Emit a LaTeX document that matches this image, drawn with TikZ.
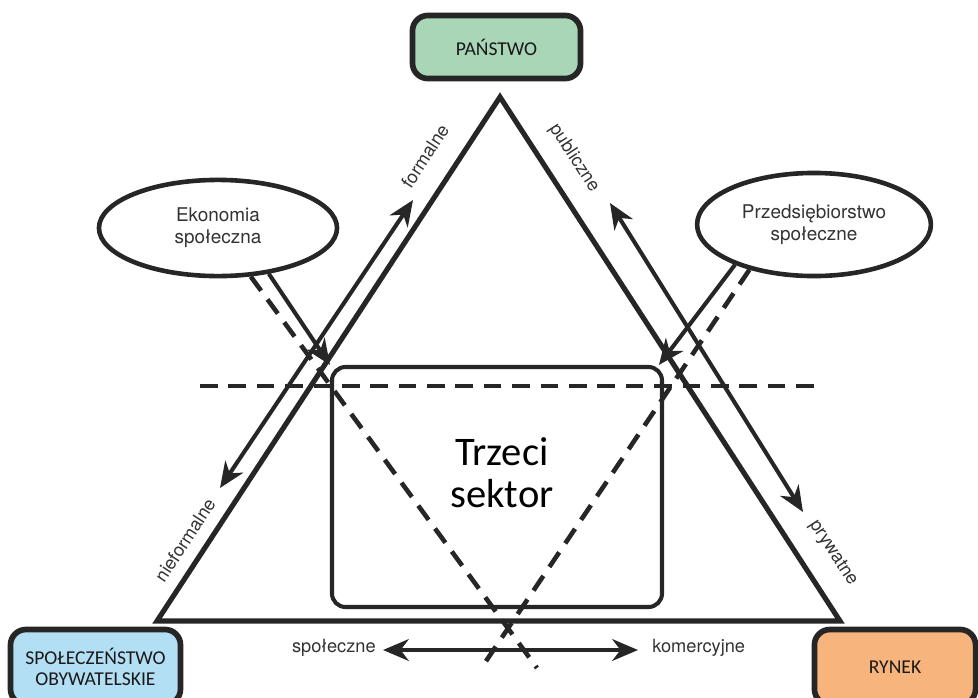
\documentclass[tikz,border=0pt]{standalone}
\usepackage{fontspec}
\setmainfont{TeX Gyre Heros}
\newfontfamily\calibfont{Carlito}
\usepackage{tikz}
\usetikzlibrary{arrows.meta,shapes.geometric}
\definecolor{lineDark}{HTML}{262626}
\definecolor{textGrey}{HTML}{333333}
\definecolor{stateGreen}{HTML}{A8D6B6}
\definecolor{civilBlue}{HTML}{B3DFF4}
\definecolor{marketOrange}{HTML}{F8B47D}
\tikzset{
	sectorbox/.style={draw=lineDark, line width=4.2pt, rounded corners=0.4cm, align=center, text=black!90, font=\calibfont\fontsize{14.5}{16}\selectfont},
	sectoroval/.style={ellipse, draw=lineDark, line width=3.4pt, fill=white, inner sep=0pt, align=center, text=textGrey, font=\fontsize{14}{16.5}\selectfont},
	sidelabel/.style={text=textGrey, inner sep=0pt, font=\fontsize{13.5}{16}\selectfont},
	flowarrow/.style={draw=lineDark, line width=3pt, >={Stealth[length=19pt,width=16pt,inset=6pt]}},
	dashline/.style={draw=lineDark, line width=3.4pt, dash pattern=on 13pt off 8pt},
}

\begin{document}
\begin{tikzpicture}[x=0.026cm,y=-0.026cm]
			%\draw [help lines] (0,0) grid (978,697);
			\useasboundingbox (0,0) rectangle (978,697);
			
			% triangle
			\coordinate (apex) at (500,97);
			\coordinate (baseL) at (157,621);
			\coordinate (baseR) at (840,621);
			\draw [draw=lineDark, line width=3.8pt] (apex) -- (baseL) -- (baseR) -- cycle;
			
			% corner boxes
			\node [sectorbox, fill=stateGreen, minimum width=4.37cm, minimum height=1.64cm] (panstwo) at (496.5,47) {PAŃSTWO};
			\node [sectorbox, fill=civilBlue, minimum width=4.42cm, minimum height=1.95cm] (spol) at (95.5,667) {SPOŁECZEŃSTWO\\OBYWATELSKIE};
			\node [sectorbox, fill=marketOrange, minimum width=4.19cm, minimum height=1.95cm] (rynek) at (895,667) {RYNEK};
			
			% third sector
			\node [draw=lineDark, line width=3pt, rounded corners=0.35cm, minimum width=8.58cm, minimum height=6.24cm] (ts) at (497,487) {};
			\node [align=center, font=\calibfont\fontsize{30}{31}\selectfont] (tstext) at (502,473) {Trzeci\\sektor};
			
			% ovals
			\node [sectoroval, minimum width=6.19cm, minimum height=2.5cm] (eko) at (218,228) {Ekonomia\\społeczna};
			\node [sectoroval, minimum width=6.08cm, minimum height=2.68cm] (pse) at (814,224.5) {Przedsiębiorstwo\\społeczne};
			
			% dashed divider and diagonals
			\coordinate (divL) at (200,386);
			\coordinate (divR) at (815,386);
			\draw [dashline] (divL) -- (divR);
			\coordinate (crossL) at (537,668);
			\coordinate (crossR) at (480,670);
			\draw [dashline] (eko.-56) -- (crossL);
			\draw [dashline] (pse.215) -- (crossR);
			
			% ovals into third sector
			\draw [flowarrow, ->] (eko.-42) -- (ts.north west);
			\draw [flowarrow, ->] (pse.207) -- (ts.37.8);
			
			% axes
			\coordinate (formalTip) at (413,200);
			\coordinate (informalTip) at (220,488);
			\draw [flowarrow, <->] (informalTip) -- (formalTip);
			\coordinate (publicTip) at (610,203);
			\coordinate (privateTip) at (803,512);
			\draw [flowarrow, <->] (publicTip) -- (privateTip);
			\coordinate (socialTip) at (383,650);
			\coordinate (commercialTip) at (638,650);
			\draw [flowarrow, <->] (socialTip) -- (commercialTip);
			
			% labels
			\node [sidelabel, rotate=56.8] (formalne) at (425,156) {formalne};
			\node [sidelabel, rotate=56.8] (nieformalne) at (185,540) {nieformalne};
			\node [sidelabel, rotate=-57] (publiczne) at (574,158) {publiczne};
			\node [sidelabel, rotate=-57] (prywatne) at (833,553) {prywatne};
			\node [sidelabel, anchor=east] (spoleczne) at (376,648) {społeczne};
			\node [sidelabel, anchor=west] (komercyjne) at (652,648) {komercyjne};
	\end{tikzpicture}
\end{document}
